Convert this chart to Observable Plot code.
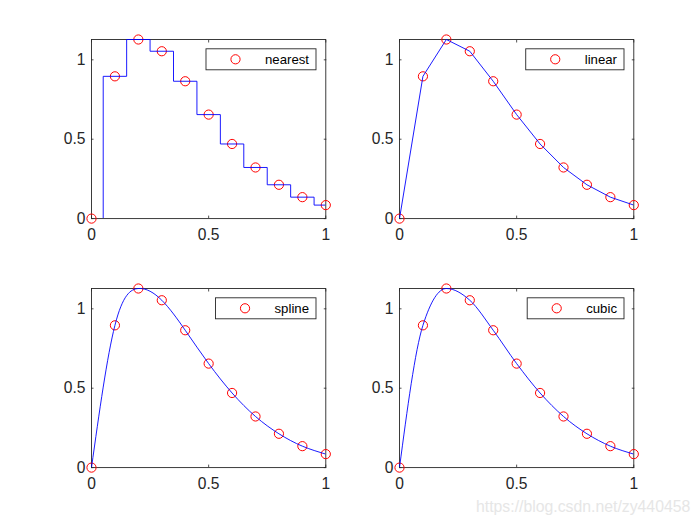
<!DOCTYPE html>
<html><head><meta charset="utf-8">
<script src="https://cdn.jsdelivr.net/npm/d3@7"></script>
<script src="https://cdn.jsdelivr.net/npm/@observablehq/plot@0.6"></script>
<style>
body{margin:0;background:#fff;}
#fig{position:relative;width:700px;height:525px;background:#fff;overflow:hidden;font-family:"Liberation Sans",Arial,Helvetica,sans-serif;}
.panel{position:absolute;}
#wm{position:absolute;left:0;top:0;}
</style></head><body><div id="fig"></div>
<script>
// data
const xs = [0, 0.1, 0.2, 0.3, 0.4, 0.5, 0.6, 0.7, 0.8, 0.9, 1.0];
const ys = [0, 0.896, 1.128, 1.054, 0.865, 0.655, 0.470, 0.322, 0.213, 0.135, 0.085];
const methods = ["nearest", "linear", "spline", "cubic"];
const curves = ["step", "linear", "natural", "monotone-x"];
const xTicks = [0, 0.5, 1];
const yTicks = [0, 0.5, 1];
const xDomain = [0, 1];
const yDomain = [0, 1.128];
const watermark = "https://blog.csdn.net/zy440458";

const data = xs.map((x, i) => ({x, y: ys[i]}));
const fig = document.getElementById("fig");
const lefts = [91, 399.2], tops = [39.4, 288.2];
const W = 234.3, H = 179.1;
const mL = 45, mR = 15, mT = 12, mB = 30;
const axisColor = "#262626";
const font = '"Liberation Sans",Arial,Helvetica,sans-serif';

methods.forEach((m, i) => {
  const L = lefts[i % 2], T = tops[Math.floor(i / 2)];
  const chart = Plot.plot({
    width: W + mL + mR, height: H + mT + mB,
    marginLeft: mL, marginRight: mR, marginTop: mT, marginBottom: mB,
    style: {fontFamily: font, background: "transparent", overflow: "visible"},
    x: {domain: xDomain},
    y: {domain: yDomain},
    marks: [
      Plot.axisX(xTicks, {anchor: "bottom", tickSize: -2.5, text: null, label: null, stroke: axisColor, strokeWidth: 0.8}),
      Plot.axisX(xTicks, {anchor: "top", tickSize: -2.5, text: null, label: null, stroke: axisColor, strokeWidth: 0.8}),
      Plot.axisY(yTicks, {anchor: "left", tickSize: -2.5, text: null, label: null, stroke: axisColor, strokeWidth: 0.8}),
      Plot.axisY(yTicks, {anchor: "right", tickSize: -2.5, text: null, label: null, stroke: axisColor, strokeWidth: 0.8}),
      Plot.axisX(xTicks, {anchor: "bottom", tickSize: 0, tickPadding: 10, tickFormat: d => String(d), fontSize: 15.6, fill: axisColor, label: null}),
      Plot.axisY(yTicks, {anchor: "left", tickSize: 0, tickPadding: 6, tickFormat: d => String(d), fontSize: 15.6, fill: axisColor, label: null}),
      Plot.frame({stroke: axisColor, strokeWidth: 0.9}),
      Plot.dot(data, {x: "x", y: "y", r: 4.6, stroke: "red", fill: "none", strokeWidth: 1}),
      Plot.line(data, {x: "x", y: "y", curve: curves[i], stroke: "blue", strokeWidth: 0.9, clip: true})
    ]
  });
  const div = document.createElement("div");
  div.className = "panel";
  div.style.left = (L - mL) + "px";
  div.style.top = (T - mT) + "px";
  div.appendChild(chart);
  fig.appendChild(div);

  // legend box (top-right inside the axes)
  const svg = d3.select(chart);
  const g = svg.append("g").attr("text-anchor", "start");
  const boxRight = mL + W - 9.3, boxTop = mT + 9.8, boxH = 21;
  const txt = g.append("text").text(m)
    .attr("font-size", 13.2).attr("fill", "#000").attr("text-anchor", "start")
    .attr("font-family", font);
  const tw = txt.node().getComputedTextLength();
  const boxLeft = boxRight - tw - 66;
  txt.attr("x", boxLeft + 59).attr("y", boxTop + boxH / 2 + 4.6);
  g.insert("rect", "text").attr("x", boxLeft).attr("y", boxTop)
    .attr("width", boxRight - boxLeft).attr("height", boxH)
    .attr("fill", "#fff").attr("stroke", axisColor).attr("stroke-width", 0.9);
  g.append("circle").attr("cx", boxLeft + 29.5).attr("cy", boxTop + boxH / 2)
    .attr("r", 4.6).attr("fill", "none").attr("stroke", "red").attr("stroke-width", 1);
});

// watermark
const wm = d3.select(fig).append("svg").attr("id", "wm").attr("width", 700).attr("height", 525);
wm.append("text").attr("x", 476).attr("y", 511.5).text(watermark)
  .attr("font-size", 15.8).attr("fill", "#e6e6e6")
  .attr("font-family", font);
</script></body></html>
